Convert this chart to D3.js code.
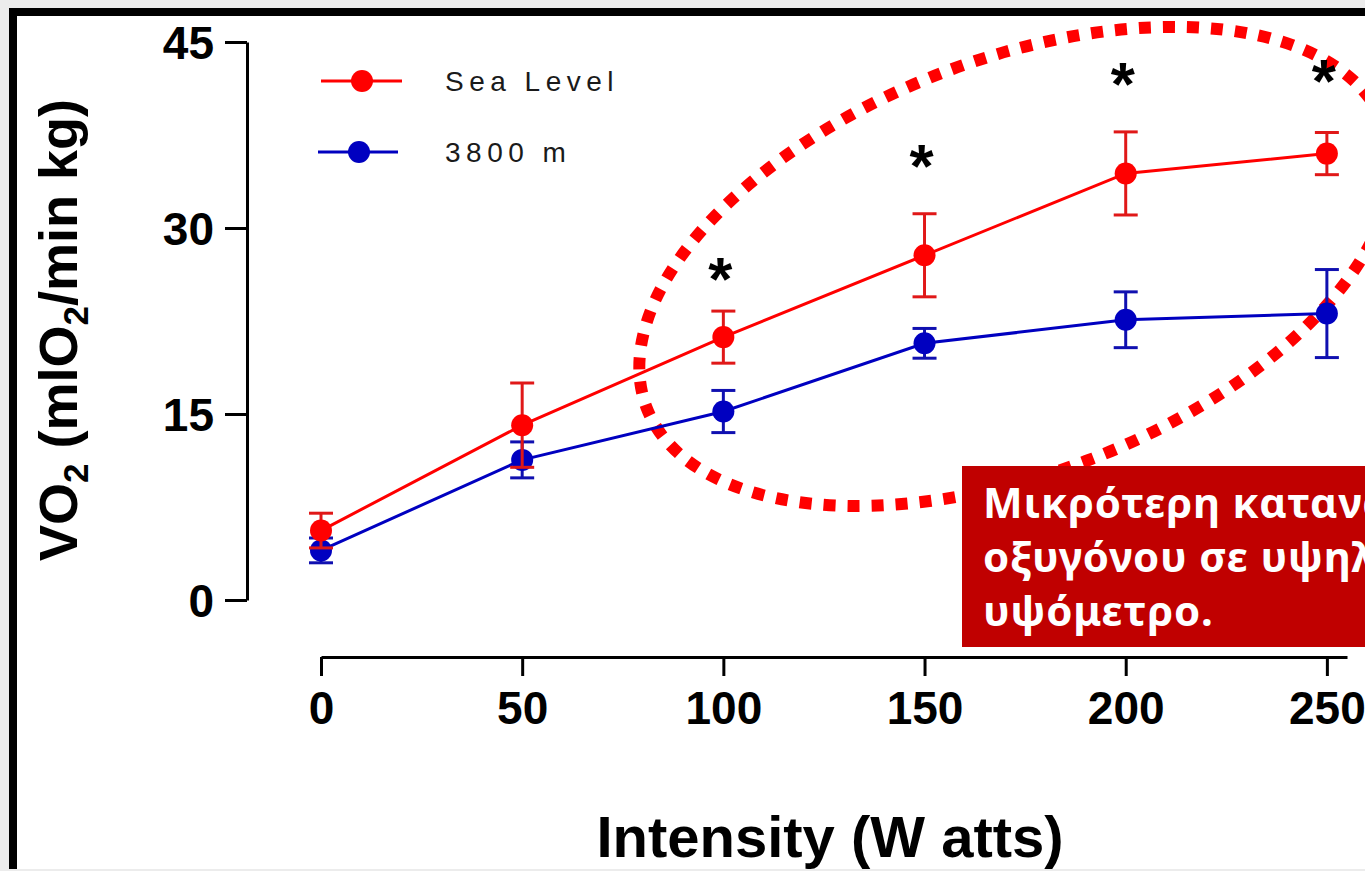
<!DOCTYPE html>
<html>
<head>
<meta charset="utf-8">
<script src="https://cdn.jsdelivr.net/npm/d3@7"></script>
<style>
  body { margin: 0; background: #ececec; overflow: hidden; }
  svg { display: block; }
</style>
</head>
<body>
<div id="chart"></div>
<script>
// data
var intensity = [0, 50, 100, 150, 200, 250];
var seaLevel = [5.6, 14.1, 21.2, 27.8, 34.4, 36.0];
var seaLevelErr = [1.4, 3.4, 2.1, 3.35, 3.35, 1.7];
var altitude = [4.0, 11.3, 15.2, 20.7, 22.6, 23.1];
var altitudeErr = [1.0, 1.45, 1.7, 1.2, 2.25, 3.55];
var yTicks = [0, 15, 30, 45];
var xTicks = [0, 50, 100, 150, 200, 250];
var starX = [100, 150, 200, 250];
var starY = [26.4, 35.5, 42.1, 42.3];
var seriesNames = ["Sea Level", "3800 m"];
var noteLines = ["Μικρότερη κατανάλωση", "οξυγόνου σε υψηλό", "υψόμετρο."];

var svgWidth = 1365;
var svgHeight = 871;
var font = "'Liberation Sans', Arial, sans-serif";

var svg = d3.select("#chart")
    .append("svg")
    .attr("width", svgWidth)
    .attr("height", svgHeight);

// frame: grey page, black border, white slide
svg.append("rect").attr("width", svgWidth).attr("height", svgHeight).attr("fill", "#ececec");
svg.append("rect").attr("x", 9).attr("y", 8).attr("width", svgWidth).attr("height", 861).attr("fill", "#000");
svg.append("rect").attr("x", 17).attr("y", 16).attr("width", svgWidth).attr("height", 853).attr("fill", "#fff");

var x = d3.scaleLinear().domain([0, 255]).range([321, 1347]);
var y = d3.scaleLinear().domain([0, 45]).range([600, 42]);

// axes
var yAxis = svg.append("g")
    .attr("transform", "translate(247,0)")
    .call(d3.axisLeft(y).tickValues(yTicks).tickSize(22).tickSizeOuter(0).tickPadding(11));
var xAxis = svg.append("g")
    .attr("transform", "translate(0,657)")
    .call(d3.axisBottom(x).tickValues(xTicks).tickSize(19).tickSizeOuter(0).tickPadding(15));

[yAxis, xAxis].forEach(function(g) {
    g.selectAll("path, line").attr("stroke", "#000").attr("stroke-width", 3);
    g.selectAll("text")
        .attr("fill", "#000")
        .style("font-family", font)
        .style("font-weight", "bold")
        .style("font-size", "46px");
});
yAxis.selectAll("text").attr("dy", "0.36em");

// dotted ellipse annotation (drawn under the data)
var ex = x(172.6), ey = y(26.9);
svg.append("ellipse")
    .attr("cx", ex).attr("cy", ey)
    .attr("rx", 395).attr("ry", 207)
    .attr("transform", `rotate(-21 ${ex} ${ey})`)
    .attr("fill", "none")
    .attr("stroke", "#ff0000")
    .attr("stroke-width", 12)
    .attr("stroke-dasharray", "12 12");

// series
var series = [
    {name: seriesNames[1], vals: altitude, err: altitudeErr, color: "#0000c0", bar: "#1010b0"},
    {name: seriesNames[0], vals: seaLevel, err: seaLevelErr, color: "#ff0000", bar: "#e01818"}
];

var line = d3.line()
    .x(function(d) { return x(d.x); })
    .y(function(d) { return y(d.v); });

series.forEach(function(s) {
    var pts = intensity.map(function(v, i) { return {x: v, v: s.vals[i], e: s.err[i]}; });
    var g = svg.append("g");

    g.append("path")
        .datum(pts)
        .attr("d", line)
        .attr("fill", "none")
        .attr("stroke", s.color)
        .attr("stroke-width", 3);

    var bars = g.selectAll(".err").data(pts).enter().append("g").attr("class", "err");
    bars.append("line")
        .attr("x1", d => x(d.x)).attr("x2", d => x(d.x))
        .attr("y1", d => y(d.v - d.e)).attr("y2", d => y(d.v + d.e));
    bars.append("line")
        .attr("x1", d => x(d.x) - 12).attr("x2", d => x(d.x) + 12)
        .attr("y1", d => y(d.v + d.e)).attr("y2", d => y(d.v + d.e));
    bars.append("line")
        .attr("x1", d => x(d.x) - 12).attr("x2", d => x(d.x) + 12)
        .attr("y1", d => y(d.v - d.e)).attr("y2", d => y(d.v - d.e));
    bars.selectAll("line").attr("stroke", s.bar).attr("stroke-width", 3);

    g.selectAll("circle").data(pts).enter().append("circle")
        .attr("cx", d => x(d.x))
        .attr("cy", d => y(d.v))
        .attr("r", 11)
        .attr("fill", s.color);
});

// significance stars
svg.selectAll(".star").data(starX).enter().append("text")
    .attr("class", "star")
    .attr("x", d => x(d) - 3)
    .attr("y", (d, i) => y(starY[i]) + 27)
    .attr("text-anchor", "middle")
    .style("font-family", font)
    .style("font-weight", "bold")
    .style("font-size", "62px")
    .text("*");

// legend
var legend = [
    {name: seriesNames[0], color: "#ff0000", y: 81, x0: 321, x1: 402, cx: 362},
    {name: seriesNames[1], color: "#0000c0", y: 152, x0: 318, x1: 398, cx: 359}
];
legend.forEach(function(l) {
    svg.append("line")
        .attr("x1", l.x0).attr("x2", l.x1).attr("y1", l.y).attr("y2", l.y)
        .attr("stroke", l.color).attr("stroke-width", 3);
    svg.append("circle").attr("cx", l.cx).attr("cy", l.y).attr("r", 11).attr("fill", l.color);
    svg.append("text")
        .attr("x", 445).attr("y", l.y + 10)
        .style("font-family", font)
        .style("font-size", "28px")
        .style("letter-spacing", "5.5px")
        .attr("fill", "#1a1a1a")
        .text(l.name);
});

// axis titles
var yTitle = svg.append("text")
    .attr("transform", "translate(77,330) rotate(-90)")
    .attr("text-anchor", "middle")
    .style("font-family", font)
    .style("font-weight", "bold")
    .style("font-size", "54px")
    .attr("fill", "#000");
yTitle.append("tspan").text("VO");
yTitle.append("tspan").attr("dy", 11).style("font-size", "35px").text("2");
yTitle.append("tspan").attr("dy", -11).text(" (mlO");
yTitle.append("tspan").attr("dy", 11).style("font-size", "35px").text("2");
yTitle.append("tspan").attr("dy", -11).text("/min kg)");

svg.append("text")
    .attr("x", 830).attr("y", 857)
    .attr("text-anchor", "middle")
    .style("font-family", font)
    .style("font-weight", "bold")
    .style("font-size", "58px")
    .attr("fill", "#000")
    .text("Intensity (W atts)");

// red note box (runs off the right edge, as in the slide)
svg.append("rect")
    .attr("x", 962).attr("y", 466)
    .attr("width", 500).attr("height", 181)
    .attr("fill", "#c00000");
svg.selectAll(".note").data(noteLines).enter().append("text")
    .attr("class", "note")
    .attr("x", 983)
    .attr("y", (d, i) => 518 + i * 54)
    .style("font-family", "'Noto Sans', 'DejaVu Sans', sans-serif")
    .style("font-weight", "bold")
    .style("font-size", "42px")
    .style("letter-spacing", "0.8px")
    .attr("fill", "#fff")
    .text(d => d);
</script>
</body>
</html>
